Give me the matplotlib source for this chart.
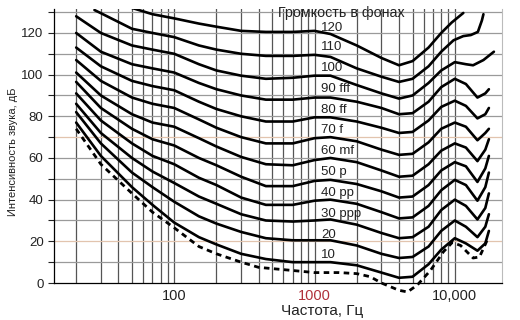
import matplotlib
matplotlib.use("Agg")
import matplotlib.pyplot as plt
import matplotlib.ticker as mticker

plt.rcParams['font.family'] = ['Liberation Sans', 'DejaVu Sans']

# --- DATOS ---
freq = [20, 30, 50, 70, 100, 150, 200, 300, 450, 700, 1000, 1300, 2000,
        3000, 4000, 5000, 6500, 8000, 10000, 12000, 14500, 16500, 17500]

fon_10 = [77, 61, 46, 37.5, 29, 22, 18.5, 14, 11.5, 10, 10, 10, 8.5, 5, 2.5, 3, 9, 16, 21.5, 19, 15.5, 19, 25]
fon_20 = [82, 67, 53, 46, 39, 32, 28.5, 24.5, 21.5, 20.5, 20.5, 20.5, 18, 14, 12, 12.5, 17.5, 25, 30, 27, 22, 27, 33]
fon_30 = [86, 72, 60, 53.5, 48, 41.5, 38, 33, 30, 29.5, 30, 30.5, 28, 24, 21.5, 22, 27, 35, 40, 37, 30.5, 36, 43]
fon_40 = [91, 78, 67, 61, 57, 50.5, 47, 41, 37.5, 37.5, 39.5, 40, 38, 34, 31, 31.5, 37, 44.5, 49.5, 47, 39.5, 46, 53]
fon_50 = [96.5, 84, 74, 69, 66, 60, 56.5, 51, 46.5, 46.5, 49, 49.5, 47.5, 44, 41, 41.5, 47, 54, 58, 56, 48.5, 55, 61]
fon_60 = [101, 90, 81, 77, 75, 69.5, 65.5, 60.5, 57, 56.5, 59, 60, 58, 54, 51, 51.5, 57, 63.5, 67, 65, 58.5, 64, 69]
fon_70 = [107, 97, 89, 86, 84, 78.5, 74.5, 70, 67, 67, 69.5, 70, 68, 64, 61.5, 62, 67.5, 74, 77, 75, 68.5, 72, 74]
fon_80 = [113, 104, 97, 94.5, 92.5, 87, 83.5, 80, 77.5, 77.5, 79.5, 79.5, 77.5, 74.5, 72, 72.5, 78, 84.5, 87.5, 85, 79, 81, 84]
fon_90 = [120, 111, 105, 103, 101, 96, 93, 90, 88, 88, 89, 89, 87, 84, 81, 81.5, 87, 94, 98, 95.5, 89, 91, 93]

freq_100 = [20, 30, 50, 70, 100, 150, 200, 300, 450, 700, 1000, 1300, 2000,
            3000, 4000, 5000, 6500, 8000, 10000, 12000, 13500, 16000, 19000]
fon_100 = [128, 120, 114, 112, 110, 105, 102, 99.5, 98, 98.5, 99.5, 99.5, 95,
           91, 88.5, 90, 96, 102, 106, 105, 104.5, 107, 111]

freq_110 = [27, 30, 50, 70, 100, 150, 200, 300, 450, 700, 1000, 1300, 2000,
            3000, 4000, 5000, 6500, 8000, 9800, 11500, 13000, 14600, 15600, 16000]
fon_110 = [131, 129.5, 122, 120, 118, 114, 112, 110, 109, 109, 109.5, 108.5, 103,
           99, 96.5, 98, 104, 111, 116.5, 118.5, 119, 120.5, 126, 129]

freq_120 = [50, 70, 100, 150, 200, 300, 450, 700, 1000, 1300, 2000,
            3000, 4000, 5000, 6500, 8000, 9500, 11500]
fon_120 = [132, 129, 127, 124.5, 123, 121, 120.5, 120.5, 121, 119.5, 114,
           108, 104.5, 106.5, 113, 120, 125, 129.6]

freq_umbral = [20, 30, 50, 70, 100, 150, 200, 300, 400, 700, 1000, 1500, 2000, 2500,
               3000, 4000, 4600, 5400, 6700, 8300, 9600, 11000, 13500, 15000, 17000]
umbral = [74, 57, 43, 34, 26.5, 17.5, 14, 10, 7.5, 6, 5, 5, 4.5, 3,
          0, -3.5, -4.3, -1, 6, 15, 19.5, 18, 12, 12.5, 20.5]

etiquetas = ["10", "20", "30 ppp", "40 pp", "50 p", "60 mf", "70 f",
             "80 ff", "90 fff", "100", "110", "120"]
niveles = [10, 20, 30, 40, 50, 60, 70, 80, 90, 100, 110, 120]

curvas = [(freq, fon_10), (freq, fon_20), (freq, fon_30), (freq, fon_40),
          (freq, fon_50), (freq, fon_60), (freq, fon_70), (freq, fon_80),
          (freq, fon_90), (freq_100, fon_100), (freq_110, fon_110), (freq_120, fon_120)]

# --- FIGURA ---
fig = plt.figure(figsize=(5.2, 3.2), dpi=100)
ax = fig.add_axes([54 / 520, 37 / 320, 448 / 520, 274 / 320])

ax.set_xscale('log')
ax.set_xlim(13.9, 21700)
ax.set_ylim(0, 131.5)

# rejilla
for f in [20, 30, 40, 50, 60, 70, 80, 90, 100, 200, 300, 400, 500, 600, 700, 800, 900,
          1000, 2000, 3000, 4000, 5000, 6000, 7000, 8000, 9000, 10000]:
    ax.axvline(f, color='#555555', lw=0.9, zorder=1)
for y in range(10, 131, 10):
    c = '#e2c4ae' if y in (20, 70) else '#9a9a9a'
    ax.axhline(y, color=c, lw=0.9, zorder=1)

for (fx, fy) in curvas:
    ax.plot(fx, fy, color='black', lw=1.9, solid_capstyle='round', zorder=3)

ax.plot(freq_umbral, umbral, color='black', lw=2.0, ls=(0, (2, 1.6)), zorder=3, clip_on=False)

# etiquetas de las curvas
for nivel, txt in zip(niveles, etiquetas):
    dy = 2.6 if nivel == 120 else 3.2
    ax.text(1110, nivel + dy, txt, fontsize=9.5, ha='left', va='center', color='#222222', zorder=4)

ax.text(1560, 129.6, "Громкость в фонах", fontsize=10.3, ha='center', va='center', color='#222222', zorder=4)

# ejes
ax.xaxis.set_major_locator(mticker.FixedLocator([100, 1000, 10000]))
ax.xaxis.set_minor_locator(mticker.NullLocator())
ax.set_xticklabels(["100", "1000", "10,000"])
ax.tick_params(axis='x', length=0, labelsize=10.5, pad=4, colors='#222222')
ax.get_xticklabels()[1].set_color('#b0303a')

ax.set_yticks(range(0, 121, 20))
ax.set_yticks(range(0, 131, 10), minor=True)
ax.tick_params(axis='y', which='both', length=4, width=0.8, labelsize=9.5, colors='#222222')

for s in ['top', 'right']:
    ax.spines[s].set_visible(False)
ax.spines['left'].set_linewidth(0.9)
ax.spines['bottom'].set_linewidth(0.9)
ax.plot([1, 1], [0, 1], transform=ax.transAxes, color='#bbbbbb', lw=0.8, clip_on=False)

ax.set_ylabel("Интенсивность звука, дБ", fontsize=8, color='#222222')
ax.yaxis.set_label_coords(-0.080, 0.478)
ax.set_xlabel("Частота, Гц", fontsize=11, color='#222222')
ax.xaxis.set_label_coords((322 - 54) / 448, -0.075)

fig.savefig("out.png", dpi=100)
